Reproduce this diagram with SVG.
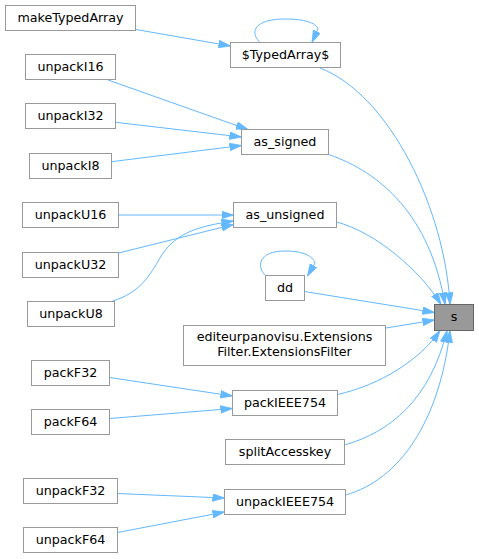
<svg xmlns="http://www.w3.org/2000/svg" width="479" height="559" viewBox="0 0 479 559">
<style>
.n rect{fill:#ffffff;stroke:#999999;stroke-width:1}
.h rect{fill:#999999;stroke:#666666;stroke-width:1}
text{font-family:"DejaVu Sans","Liberation Sans",sans-serif;font-size:12.7px;fill:#000000;text-anchor:middle}
.e path{fill:none;stroke:#63b8ff;stroke-width:1;marker-end:url(#ah)}
</style>
<defs>
<marker id="ah" markerUnits="userSpaceOnUse" markerWidth="13" markerHeight="9" refX="12" refY="4" orient="auto" viewBox="0 0 13 9">
<path d="M0,0.2 L12,4 L0,7.8 z" fill="#63b8ff" stroke="#63b8ff" stroke-width="0.8"/>
</marker>
</defs>
<rect width="479" height="559" fill="#ffffff"/>
<g class="e" id="edges">
<path d="M136,29.5 L230.5,46"/>
<path d="M260,42.5 C250,33 253,19 285,19 C305,19 316,23 318,29 L312,42.5"/>
<path d="M320,68 C390,95 445,210 450,304.5"/>
<path d="M108,80 L248,129.5"/>
<path d="M115.5,122.3 L241.5,137"/>
<path d="M111.5,161.7 L241.5,145.5"/>
<path d="M328.5,154.5 C380,172 430,215 445,304.5"/>
<path d="M118.5,215 L233.5,215"/>
<path d="M118.5,253 L233.5,224.5"/>
<path d="M112.5,301 C140,293 150,275 160,258 C175,232 200,226 233.5,221"/>
<path d="M336.5,222 C375,232 420,270 441,304.5"/>
<path d="M266,276 C256,267 258,251 285,251 C303,251 313,256 315,263 L307.5,276"/>
<path d="M304.5,291.5 L434.5,312.5"/>
<path d="M386,328 L434.5,320"/>
<path d="M109.5,377.5 L232.5,396"/>
<path d="M109.5,418.5 L232.5,408.5"/>
<path d="M337.5,394.5 C380,385 420,360 440,330.5"/>
<path d="M344.5,445 C390,432 430,400 447,330.5"/>
<path d="M345.5,495 C400,480 440,420 450,330.5"/>
<path d="M117.5,493.5 L224.5,498"/>
<path d="M117.5,532.5 L224.5,512"/>
</g>
<g class="n" id="makeTypedArray"><rect x="5.5" y="5.5" width="130" height="25"/><text x="70.5" y="21.7">makeTypedArray</text></g>
<g class="n" id="TypedArray"><rect x="230.5" y="42.5" width="110" height="25"/><text x="285.5" y="58.7">$TypedArray$</text></g>
<g class="n" id="unpackI16"><rect x="25.5" y="54.5" width="90" height="25"/><text x="70.5" y="70.7">unpackI16</text></g>
<g class="n" id="unpackI32"><rect x="25.5" y="103.5" width="90" height="25"/><text x="70.5" y="119.7">unpackI32</text></g>
<g class="n" id="unpackI8"><rect x="29.5" y="153.5" width="82" height="25"/><text x="70.5" y="169.7">unpackI8</text></g>
<g class="n" id="as_signed"><rect x="241.5" y="129.5" width="87" height="25"/><text x="285" y="145.7">as_signed</text></g>
<g class="n" id="unpackU16"><rect x="22.5" y="202.5" width="96" height="25"/><text x="70.5" y="218.7">unpackU16</text></g>
<g class="n" id="unpackU32"><rect x="22.5" y="252.5" width="96" height="25"/><text x="70.5" y="268.7">unpackU32</text></g>
<g class="n" id="unpackU8"><rect x="27.5" y="301.5" width="87" height="25"/><text x="71" y="317.7">unpackU8</text></g>
<g class="n" id="as_unsigned"><rect x="233.5" y="202.5" width="103" height="25"/><text x="285" y="218.7">as_unsigned</text></g>
<g class="n" id="dd"><rect x="265.5" y="275.5" width="39" height="25"/><text x="285" y="291.7">dd</text></g>
<g class="h" id="s"><rect x="434.5" y="304.5" width="39" height="26"/><text x="454" y="321.2">s</text></g>
<g class="n" id="editeurpanovisu"><rect x="183.5" y="325.5" width="202" height="40"/><text x="284.5" y="341">editeurpanovisu.Extensions</text><text x="284.5" y="356">Filter.ExtensionsFilter</text></g>
<g class="n" id="packF32"><rect x="31.5" y="360.5" width="78" height="25"/><text x="70.5" y="376.7">packF32</text></g>
<g class="n" id="packIEEE754"><rect x="232.5" y="390.5" width="105" height="25"/><text x="285" y="406.7">packIEEE754</text></g>
<g class="n" id="packF64"><rect x="31.5" y="409.5" width="78" height="25"/><text x="70.5" y="425.7">packF64</text></g>
<g class="n" id="splitAccesskey"><rect x="225.5" y="439.5" width="119" height="25"/><text x="285" y="455.7">splitAccesskey</text></g>
<g class="n" id="unpackF32"><rect x="23.5" y="478.5" width="94" height="25"/><text x="70.5" y="494.7">unpackF32</text></g>
<g class="n" id="unpackIEEE754"><rect x="224.5" y="489.5" width="121" height="25"/><text x="285" y="505.7">unpackIEEE754</text></g>
<g class="n" id="unpackF64"><rect x="23.5" y="527.5" width="94" height="25"/><text x="70.5" y="543.7">unpackF64</text></g>
</svg>
